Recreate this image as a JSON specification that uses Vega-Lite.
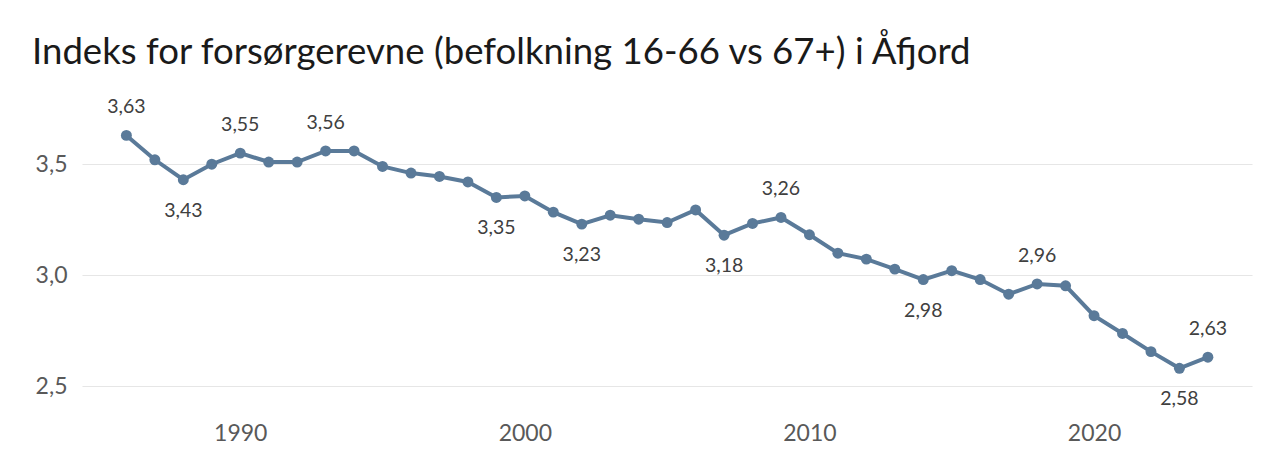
{
  "$schema": "https://vega.github.io/schema/vega-lite/v6.json",
  "autosize": "none",
  "width": 1170,
  "height": 275,
  "padding": {"left": 82, "top": 111, "right": 33, "bottom": 82},
  "background": "white",
  "config": {
    "locale": {"number": {"decimal": ",", "thousands": " ", "grouping": [3], "currency": ["", " kr"]}},
    "view": {"stroke": null},
    "font": "Lato"
  },
  "title": {
    "text": "Indeks for forsørgerevne (befolkning 16-66 vs 67+) i Åfjord",
    "anchor": "start",
    "frame": "group",
    "dx": -50,
    "offset": 26,
    "font": "Lato",
    "fontSize": 36.6,
    "fontWeight": "normal",
    "color": "#1a1a1a"
  },
  "data": {
    "values": [
      {"year": 1986, "value": 3.63},
      {"year": 1987, "value": 3.52},
      {"year": 1988, "value": 3.43},
      {"year": 1989, "value": 3.50},
      {"year": 1990, "value": 3.55},
      {"year": 1991, "value": 3.51},
      {"year": 1992, "value": 3.51},
      {"year": 1993, "value": 3.56},
      {"year": 1994, "value": 3.56},
      {"year": 1995, "value": 3.49},
      {"year": 1996, "value": 3.46},
      {"year": 1997, "value": 3.445},
      {"year": 1998, "value": 3.42},
      {"year": 1999, "value": 3.35},
      {"year": 2000, "value": 3.357},
      {"year": 2001, "value": 3.284},
      {"year": 2002, "value": 3.23},
      {"year": 2003, "value": 3.27},
      {"year": 2004, "value": 3.252},
      {"year": 2005, "value": 3.237},
      {"year": 2006, "value": 3.294},
      {"year": 2007, "value": 3.18},
      {"year": 2008, "value": 3.233},
      {"year": 2009, "value": 3.26},
      {"year": 2010, "value": 3.182},
      {"year": 2011, "value": 3.099},
      {"year": 2012, "value": 3.072},
      {"year": 2013, "value": 3.027},
      {"year": 2014, "value": 2.98},
      {"year": 2015, "value": 3.02},
      {"year": 2016, "value": 2.98},
      {"year": 2017, "value": 2.914},
      {"year": 2018, "value": 2.96},
      {"year": 2019, "value": 2.952},
      {"year": 2020, "value": 2.817},
      {"year": 2021, "value": 2.737},
      {"year": 2022, "value": 2.655},
      {"year": 2023, "value": 2.58},
      {"year": 2024, "value": 2.63}
    ]
  },
  "encoding": {
    "x": {
      "field": "year",
      "type": "quantitative",
      "scale": {"domain": [1984.44, 2025.55], "nice": false, "zero": false},
      "axis": {
        "title": null,
        "values": [1990, 2000, 2010, 2020],
        "format": "d",
        "grid": false,
        "domain": false,
        "ticks": false,
        "labelPadding": 36,
        "labelFontSize": 23,
        "labelColor": "#595959",
        "labelFont": "Lato"
      }
    },
    "y": {
      "field": "value",
      "type": "quantitative",
      "scale": {"domain": [2.5, 3.74], "nice": false, "zero": false},
      "axis": {
        "title": null,
        "values": [2.5, 3.0, 3.5],
        "format": ".1f",
        "grid": true,
        "gridColor": "#e6e6e6",
        "gridWidth": 1.2,
        "domain": false,
        "ticks": false,
        "labelPadding": 15,
        "labelFontSize": 23,
        "labelColor": "#595959",
        "labelFont": "Lato"
      }
    }
  },
  "layer": [
    {
      "mark": {"type": "line", "color": "#5a7a99", "strokeWidth": 4}
    },
    {
      "mark": {"type": "point", "filled": true, "opacity": 1, "color": "#5a7a99", "size": 120}
    },
    {
      "transform": [{"filter": "indexof([1986, 1990, 1993, 2009, 2018, 2024], datum.year) >= 0"}],
      "mark": {"type": "text", "dy": -28, "baseline": "middle", "fontSize": 19.5, "color": "#404040", "font": "Lato"},
      "encoding": {"text": {"field": "value", "type": "quantitative", "format": ".2f"}}
    },
    {
      "transform": [{"filter": "indexof([1988, 1999, 2002, 2007, 2014, 2023], datum.year) >= 0"}],
      "mark": {"type": "text", "dy": 31, "baseline": "middle", "fontSize": 19.5, "color": "#404040", "font": "Lato"},
      "encoding": {"text": {"field": "value", "type": "quantitative", "format": ".2f"}}
    }
  ]
}
